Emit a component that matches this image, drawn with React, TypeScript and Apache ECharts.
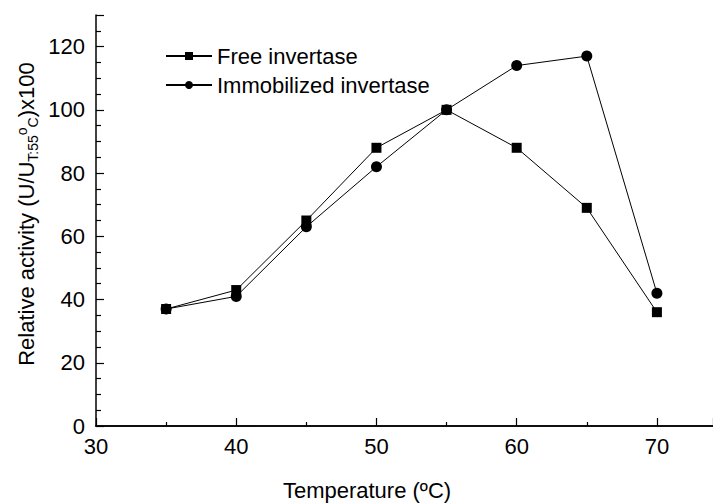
import React, { useEffect, useRef } from "react";
import * as echarts from "echarts";

// Temperature (°C) at which relative activity was measured
const temperatures = [35, 40, 45, 50, 55, 60, 65, 70];
// Relative activity (%) of the free enzyme
const freeActivity = [37, 43, 65, 88, 100, 88, 69, 36];
// Relative activity (%) of the immobilized enzyme
const immobilizedActivity = [37, 41, 63, 82, 100, 114, 117, 42];

const seriesNames = ["Free invertase", "Immobilized invertase"];

const FONT = "'Liberation Sans', Arial, Helvetica, sans-serif";
const FS = 22;

export default function App() {
  const ref = useRef<HTMLDivElement>(null);

  useEffect(() => {
    if (!ref.current) return;
    const chart = echarts.init(ref.current, undefined, { renderer: "svg" });

    const pairs = (ys: number[]) => temperatures.map((t, i) => [t, ys[i]]);

    const axisCommon = {
      axisLine: { show: true, onZero: false, lineStyle: { color: "#000", width: 1.5 } },
      splitLine: { show: false },
    };

    chart.setOption({
      animation: false,
      backgroundColor: "#fff",
      textStyle: { fontFamily: FONT },
      grid: { left: 96, right: 0, top: 15, bottom: 78, containLabel: false },
      legend: {
        orient: "vertical",
        left: 160,
        top: 40,
        itemWidth: 46,
        itemHeight: 10,
        itemGap: 7,
        textStyle: { fontSize: FS, color: "#000", fontFamily: FONT },
        data: seriesNames,
      },
      xAxis: [
        {
          type: "value",
          min: 30,
          max: 74,
          interval: 10,
          ...axisCommon,
          axisTick: { show: true, inside: true, length: 8, lineStyle: { color: "#000", width: 1.2 } },
          minorTick: { show: true, splitNumber: 2, length: 4, lineStyle: { color: "#000", width: 1.2 } },
          axisLabel: {
            showMaxLabel: false,
            fontSize: FS,
            color: "#000",
            margin: 9,
            fontFamily: FONT,
          },
        },
        {
          type: "value",
          position: "top",
          min: 30,
          max: 74,
          axisLine: { show: true, lineStyle: { color: "#000", width: 1.5 } },
          axisTick: { show: false },
          axisLabel: { show: false },
          splitLine: { show: false },
        },
      ],
      yAxis: {
        type: "value",
        min: 0,
        max: 130,
        interval: 20,
        ...axisCommon,
        axisTick: { show: true, inside: true, length: 8, lineStyle: { color: "#000", width: 1.2 } },
        minorTick: { show: true, splitNumber: 4, length: 5, lineStyle: { color: "#000", width: 1.2 } },
        axisLabel: {
          showMaxLabel: false,
          fontSize: FS,
          color: "#000",
          margin: 11,
          fontFamily: FONT,
        },
      },
      graphic: [
        {
          type: "text",
          x: 26,
          y: 214,
          rotation: Math.PI / 2,
          style: {
            text: "Relative activity (U/U{sub|T:55}{sup|o}{sub|C})x100",
            fontSize: FS,
            fontFamily: FONT,
            fill: "#000",
            align: "center",
            verticalAlign: "middle",
            lineHeight: 30,
            rich: {
              sub: { fontSize: 14, height: 17, verticalAlign: "bottom", fontFamily: FONT, fill: "#000" },
              sup: { fontSize: 14, height: 22, verticalAlign: "top", fontFamily: FONT, fill: "#000" },
            },
          },
        },
        {
          type: "text",
          x: 367,
          y: 490,
          style: {
            text: "Temperature (ºC)",
            fontSize: FS,
            fontFamily: FONT,
            fill: "#000",
            align: "center",
            verticalAlign: "middle",
          },
        },
      ],
      series: [
        {
          name: seriesNames[0],
          type: "line",
          data: pairs(freeActivity),
          symbol: "rect",
          symbolSize: 10,
          itemStyle: { color: "#000" },
          lineStyle: { color: "#000", width: 1 },
          z: 3,
        },
        {
          name: seriesNames[1],
          type: "line",
          data: pairs(immobilizedActivity),
          symbol: "circle",
          symbolSize: 11,
          itemStyle: { color: "#000" },
          lineStyle: { color: "#000", width: 1 },
          z: 2,
        },
      ],
    });

    return () => chart.dispose();
  }, []);

  return <div ref={ref} style={{ width: 713, height: 504, position: "absolute", left: 0, top: 0 }} />;
}
